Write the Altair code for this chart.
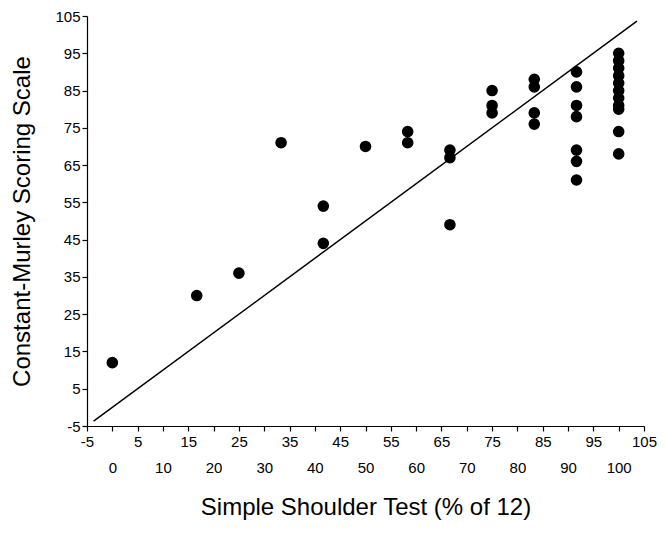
import altair as alt
import pandas as pd

# Simple Shoulder Test (% of 12) values for each point
sst = [0, 16.67, 25, 33.33, 41.67, 41.67, 50, 58.33, 58.33,
       66.67, 66.67, 66.67,
       75, 75, 75,
       83.33, 83.33, 83.33, 83.33,
       91.67, 91.67, 91.67, 91.67, 91.67, 91.67, 91.67,
       100, 100, 100, 100, 100, 100, 100, 100, 100, 100, 100]
# Constant-Murley scores
cms = [12, 30, 36, 71, 54, 44, 70, 74, 71,
       69, 67, 49,
       85, 81, 79,
       88, 86, 79, 76,
       90, 86, 81, 78, 69, 66, 61,
       95, 93, 91, 89, 87, 85, 83, 81, 80, 74, 68]

# line of identity
line_x = [-3.7, 103.6]
line_y = [-3.7, 103.6]

odd_ticks = list(range(-5, 110, 5))
even_labels = list(range(0, 110, 10))
y_ticks = list(range(-5, 110, 10))

pts = pd.DataFrame({"x": sst, "y": cms})
ln = pd.DataFrame({"x": line_x, "y": line_y})

FONT = "Liberation Sans"
xscale = alt.Scale(domain=[-5, 105], nice=False, zero=False)
yscale = alt.Scale(domain=[-5, 105], nice=False, zero=False)

yaxis = alt.Axis(values=y_ticks, title="Constant-Murley Scoring Scale",
                 labelExpr="'' + datum.value",
                 grid=False, tickSize=5, tickColor="black", domainColor="black",
                 labelColor="black", labelFont=FONT, labelFontSize=15,
                 labelPadding=2, titleFont=FONT, titleFontSize=24,
                 titleFontWeight="normal", titleColor="black", titlePadding=20,
                 domainWidth=1.2, tickWidth=1.2)

scatter = alt.Chart(pts).mark_circle(size=135, color="black", opacity=1).encode(
    x=alt.X("x:Q", scale=xscale,
            axis=alt.Axis(values=odd_ticks, orient="bottom", title=None,
                          labelExpr="datum.value % 10 == 0 ? '' : '' + datum.value",
                          grid=False, tickSize=5, tickColor="black",
                          domainColor="black", labelColor="black",
                          labelFont=FONT, labelFontSize=15, labelPadding=3,
                          labelFlush=False, labelOverlap=False,
                          domainWidth=1.2, tickWidth=1.2)),
    y=alt.Y("y:Q", scale=yscale, axis=yaxis),
)

line = alt.Chart(ln).mark_line(color="black", strokeWidth=1.5).encode(
    x=alt.X("x:Q", scale=xscale,
            axis=alt.Axis(values=even_labels, orient="bottom",
                          title="Simple Shoulder Test (% of 12)",
                          grid=False, ticks=False, domain=False,
                          labelColor="black", labelFont=FONT, labelFontSize=15,
                          labelPadding=34, labelFlush=False, labelOverlap=False,
                          titleFont=FONT, titleFontSize=24,
                          titleFontWeight="normal", titleColor="black",
                          titlePadding=20)),
    y=alt.Y("y:Q", scale=yscale, axis=yaxis),
)

chart = alt.layer(scatter, line).resolve_axis(x="independent").properties(
    width=557, height=410,
    autosize=alt.AutoSizeParams(type="none"),
    padding={"left": 79, "top": 8, "right": 13, "bottom": 104},
).configure_view(stroke=None)

chart.save("out.html", embed_options={"renderer": "svg", "actions": False})
